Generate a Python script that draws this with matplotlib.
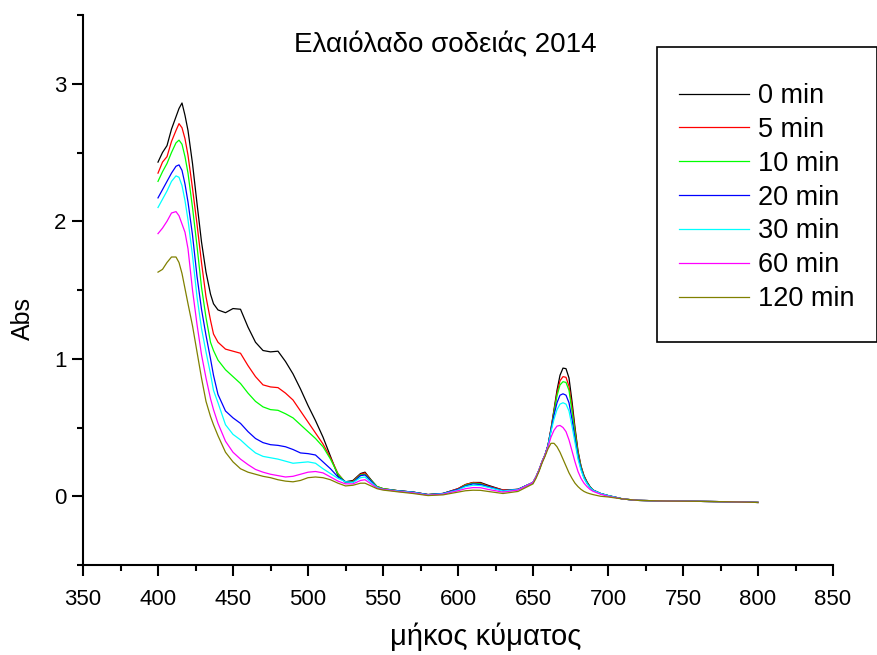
import matplotlib
matplotlib.use("Agg")
import matplotlib.pyplot as plt
from matplotlib.patches import Rectangle
from matplotlib.ticker import MultipleLocator

plt.rcParams['font.family'] = ['Liberation Sans', 'DejaVu Sans']

wavelength = [400, 403, 406, 409, 412, 414, 416, 418,
              420, 423, 426, 429, 432, 435, 437,
              440, 445, 450, 455, 460, 465, 470, 475, 480, 485, 490, 495, 500, 505, 510, 515, 520, 525, 530, 535,
              538, 542, 546, 550,
              560, 570, 580, 590, 600,
              605, 610, 615, 620,
              630, 640, 650,
              652, 654, 656, 658, 660, 662, 664, 666, 668, 670, 672, 674, 676, 678, 680, 682, 684, 686, 688, 690,
              695, 700,
              710, 720, 740, 760, 780, 800]

abs_0 = [2.43, 2.50, 2.55, 2.67, 2.76, 2.82, 2.86, 2.77,
         2.66, 2.42, 2.13, 1.85, 1.63, 1.47, 1.40,
         1.355, 1.335, 1.365, 1.36, 1.23, 1.12, 1.06, 1.05, 1.055, 0.98, 0.89, 0.78, 0.66, 0.55, 0.43, 0.29, 0.15, 0.105, 0.115, 0.165,
         0.175, 0.12, 0.07, 0.055,
         0.04, 0.03, 0.012, 0.02, 0.055,
         0.085, 0.10, 0.10, 0.08,
         0.045, 0.05, 0.10,
         0.14, 0.19, 0.25, 0.30, 0.37, 0.49, 0.63, 0.77, 0.88, 0.932, 0.928, 0.86, 0.69, 0.50, 0.33, 0.22, 0.15, 0.105, 0.07, 0.045,
         0.02, 0.005,
         -0.02, -0.03, -0.035, -0.037, -0.04, -0.045]

abs_5 = [2.35, 2.43, 2.47, 2.58, 2.66, 2.71, 2.68, 2.60,
         2.48, 2.24, 1.98, 1.70, 1.45, 1.28, 1.18,
         1.12, 1.07, 1.055, 1.04, 0.95, 0.87, 0.81, 0.795, 0.79, 0.75, 0.70, 0.62, 0.54, 0.46, 0.38, 0.28, 0.165, 0.10, 0.11, 0.16,
         0.17, 0.115, 0.07, 0.055,
         0.04, 0.03, 0.012, 0.02, 0.055,
         0.085, 0.10, 0.095, 0.075,
         0.045, 0.05, 0.10,
         0.14, 0.19, 0.25, 0.30, 0.37, 0.49, 0.62, 0.75, 0.84, 0.87, 0.865, 0.80, 0.65, 0.48, 0.32, 0.215, 0.145, 0.10, 0.068, 0.045,
         0.02, 0.005,
         -0.02, -0.03, -0.035, -0.037, -0.04, -0.045]

abs_10 = [2.29, 2.36, 2.42, 2.50, 2.57, 2.59, 2.56, 2.47,
          2.35, 2.10, 1.82, 1.52, 1.30, 1.12, 1.06,
          0.99, 0.92, 0.87, 0.82, 0.75, 0.69, 0.65, 0.63, 0.625, 0.60, 0.57, 0.52, 0.47, 0.42, 0.36, 0.27, 0.16, 0.10, 0.105, 0.155,
          0.16, 0.115, 0.07, 0.055,
          0.04, 0.03, 0.012, 0.02, 0.05,
          0.08, 0.095, 0.09, 0.07,
          0.04, 0.05, 0.10,
          0.14, 0.19, 0.25, 0.30, 0.37, 0.48, 0.61, 0.73, 0.81, 0.833, 0.828, 0.77, 0.62, 0.46, 0.31, 0.21, 0.14, 0.10, 0.067, 0.045,
          0.02, 0.005,
          -0.02, -0.03, -0.035, -0.037, -0.04, -0.045]

abs_20 = [2.17, 2.23, 2.29, 2.35, 2.40, 2.41, 2.37, 2.27,
          2.14, 1.90, 1.60, 1.36, 1.17, 1.00, 0.88,
          0.74, 0.62, 0.57, 0.53, 0.47, 0.42, 0.39, 0.375, 0.37, 0.36, 0.34, 0.315, 0.31, 0.30, 0.25, 0.20, 0.14, 0.105, 0.10, 0.15,
          0.155, 0.11, 0.065, 0.05,
          0.04, 0.03, 0.012, 0.02, 0.05,
          0.075, 0.09, 0.085, 0.07,
          0.04, 0.05, 0.10,
          0.14, 0.19, 0.25, 0.30, 0.37, 0.48, 0.59, 0.68, 0.735, 0.745, 0.735, 0.68, 0.56, 0.42, 0.29, 0.20, 0.135, 0.095, 0.065, 0.044,
          0.02, 0.005,
          -0.02, -0.03, -0.035, -0.037, -0.04, -0.045]

abs_30 = [2.10, 2.16, 2.22, 2.29, 2.33, 2.32, 2.26, 2.15,
          2.01, 1.75, 1.45, 1.22, 1.05, 0.89, 0.77,
          0.68, 0.52, 0.45, 0.41, 0.36, 0.315, 0.29, 0.28, 0.27, 0.255, 0.24, 0.245, 0.25, 0.24, 0.20, 0.165, 0.13, 0.105, 0.10, 0.135,
          0.14, 0.10, 0.065, 0.05,
          0.038, 0.028, 0.01, 0.018, 0.045,
          0.07, 0.08, 0.078, 0.065,
          0.038, 0.048, 0.10,
          0.14, 0.19, 0.25, 0.30, 0.365, 0.47, 0.56, 0.63, 0.67, 0.68, 0.67, 0.62, 0.51, 0.39, 0.27, 0.19, 0.13, 0.092, 0.063, 0.043,
          0.02, 0.005,
          -0.02, -0.03, -0.035, -0.037, -0.04, -0.045]

abs_60 = [1.91, 1.95, 2.00, 2.06, 2.07, 2.04, 1.98, 1.92,
          1.80, 1.50, 1.25, 1.03, 0.86, 0.71, 0.63,
          0.53, 0.40, 0.32, 0.27, 0.23, 0.195, 0.175, 0.16, 0.15, 0.14, 0.145, 0.16, 0.175, 0.18, 0.17, 0.14, 0.11, 0.09, 0.09, 0.115,
          0.12, 0.09, 0.06, 0.05,
          0.035, 0.025, 0.008, 0.015, 0.04,
          0.055, 0.063, 0.062, 0.05,
          0.03, 0.045, 0.10,
          0.14, 0.19, 0.25, 0.30, 0.36, 0.43, 0.48, 0.51, 0.515, 0.50, 0.47, 0.41, 0.33, 0.25, 0.18, 0.13, 0.095, 0.07, 0.05, 0.036,
          0.015, 0.0,
          -0.02, -0.03, -0.035, -0.037, -0.04, -0.045]

abs_120 = [1.63, 1.65, 1.70, 1.74, 1.74, 1.70, 1.62, 1.51,
           1.40, 1.24, 1.05, 0.86, 0.69, 0.58, 0.52,
           0.44, 0.32, 0.25, 0.20, 0.175, 0.16, 0.145, 0.135, 0.12, 0.11, 0.105, 0.115, 0.135, 0.14, 0.135, 0.12, 0.095, 0.075, 0.08, 0.095,
           0.095, 0.075, 0.055, 0.045,
           0.032, 0.02, 0.005, 0.01, 0.03,
           0.04, 0.044, 0.043, 0.035,
           0.02, 0.035, 0.09,
           0.13, 0.18, 0.24, 0.29, 0.345, 0.385, 0.385, 0.36, 0.32, 0.27, 0.22, 0.17, 0.13, 0.095, 0.07, 0.05, 0.035, 0.025, 0.018, 0.012,
           0.0, -0.005,
           -0.02, -0.03, -0.035, -0.037, -0.04, -0.045]

series = [abs_0, abs_5, abs_10, abs_20, abs_30, abs_60, abs_120]
labels = ['0 min', '5 min', '10 min', '20 min', '30 min', '60 min', '120 min']
colors = ['#000000', '#FF0000', '#00FF00', '#0000FF', '#00FFFF', '#FF00FF', '#808000']

title = 'Ελαιόλαδο σοδειάς 2014'
xlabel = 'μήκος κύματος'
ylabel = 'Abs'

W, H = 877, 655
fig = plt.figure(figsize=(W / 100, H / 100), dpi=100)
ax = fig.add_axes([83 / W, 1 - 565 / H, 750 / W, 550 / H])

lines = []
for vals, lab, col in zip(series, labels, colors):
    ln, = ax.plot(wavelength, vals, color=col, lw=0.9, label=lab)
    lines.append(ln)

ax.set_xlim(350, 850)
ax.set_ylim(-0.5, 3.5)
ax.xaxis.set_major_locator(MultipleLocator(50))
ax.xaxis.set_minor_locator(MultipleLocator(25))
ax.yaxis.set_major_locator(MultipleLocator(1))
ax.yaxis.set_minor_locator(MultipleLocator(0.5))

for s in ['top', 'right']:
    ax.spines[s].set_visible(False)
for s in ['left', 'bottom']:
    ax.spines[s].set_linewidth(1.5)

ax.tick_params(which='major', direction='out', length=8, width=1.5, labelsize=16)
ax.tick_params(which='minor', direction='out', length=4.5, width=1.5)
ax.tick_params(axis='x', which='major', pad=9)
ax.tick_params(axis='y', which='major', pad=4)

ax.set_xlabel(xlabel, fontsize=21)
ax.set_ylabel(ylabel, fontsize=18)
ax.xaxis.set_label_coords(0.537, -0.104)
ax.yaxis.set_label_coords(-0.064, 0.449)

ax.text(0.483, 0.945, title, transform=ax.transAxes, ha='center', va='center', fontsize=20)

# legend box
fig.patches.append(Rectangle((657 / W, 1 - 342 / H), 220 / W, 295 / H, transform=fig.transFigure,
                             fill=False, edgecolor='black', lw=1.2))
fig.legend(handles=lines, labels=labels, loc='upper left',
           bbox_to_anchor=(679 / W, 1 - 83 / H), frameon=False,
           fontsize=19.5, handlelength=2.6, handletextpad=0.3, labelspacing=0.29,
           borderpad=0, borderaxespad=0)

fig.savefig('out.png', dpi=100)
